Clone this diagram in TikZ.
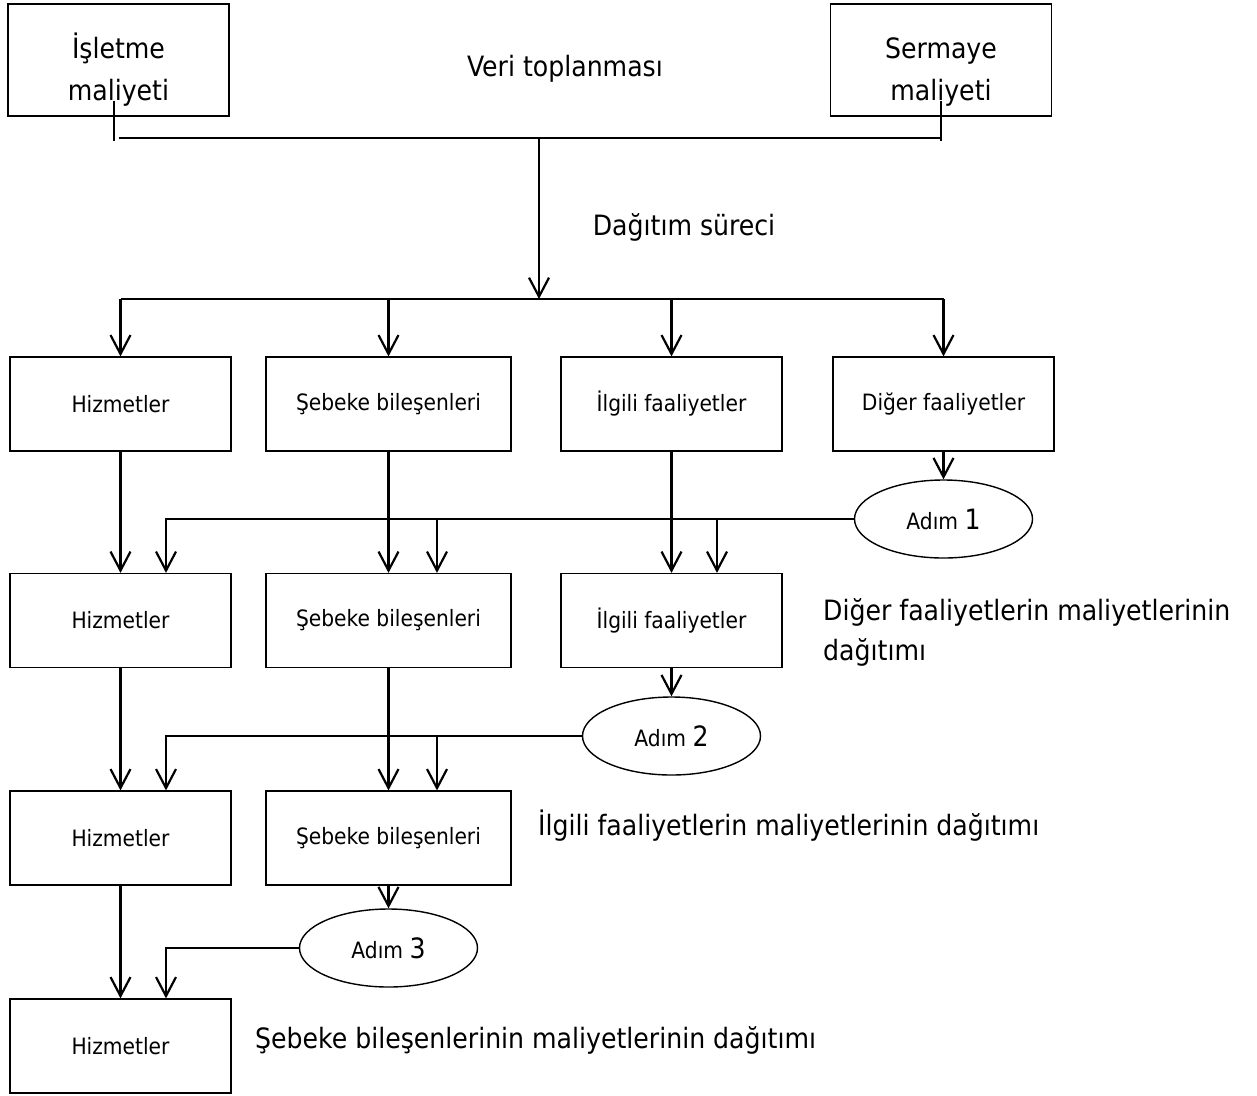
\documentclass[tikz,border=0pt]{standalone}
\usepackage{fontspec}
\setmainfont{DejaVu Sans Condensed}
\usetikzlibrary{arrows.meta,shapes.geometric,positioning}

\newcommand{\boxfont}{\fontsize{22.5}{27}\selectfont}
\newcommand{\bigfont}{\fontsize{28}{42}\selectfont}

\tikzset{
	stagebox/.style={draw, line width=1.2pt, rectangle, minimum width=221pt,
		minimum height=94pt, inner sep=0pt, font=\boxfont},
	widebox/.style={stagebox, minimum width=245pt},
	stepnode/.style={draw, line width=1.4pt, ellipse, minimum width=178pt,
		minimum height=78pt, inner sep=0pt, font=\boxfont},
	conn/.style={line width=2.2pt, -{Straight Barb[length=19pt,width=20pt]}},
	bus/.style={line width=2.2pt},
	thinline/.style={line width=1.2pt},
	notetext/.style={font=\bigfont, inner sep=0pt, align=left}
}

\begin{document}
\begin{tikzpicture}[x=1pt,y=-1pt]
	\useasboundingbox (0,0) rectangle (1257,1095);
	
	% veri toplanmasi
	\node[stagebox, minimum height=112pt, font=\bigfont, align=center] (isl) at (118.5,60) {\rule{0pt}{44pt}İşletme\\maliyeti};
	\node[stagebox, minimum height=112pt, font=\bigfont, align=center] (srm) at (941,60) {\rule{0pt}{44pt}Sermaye\\maliyeti};
	\node[notetext] (veri) at (565,69) {Veri toplanması};
	
	\coordinate (busL) at (119,138);
	\coordinate (busR) at (941,138);
	\coordinate (busM) at (539,138);
	\draw[thinline] ([xshift=-4.5pt,yshift=16pt]isl.south) -- ++(0,40);
	\draw[thinline] ([yshift=16pt]srm.south) -- ++(0,40);
	\draw[bus] (busL) -- (busR);
	
	% dagitim sureci
	\node[notetext] (dagitim) at (684,227) {Dağıtım süreci};
	\coordinate (split) at (539,299);
	\draw[conn] (busM) -- (split);
	
	% 1. sira
	\node[stagebox] (h1) at (120.5,404) {Hizmetler};
	\node[widebox] (s1) at (388.5,404) {Şebeke bileşenleri};
	\node[stagebox] (i1) at (671.5,404) {İlgili faaliyetler};
	\node[stagebox] (d1) at (943.5,404) {Diğer faaliyetler};
	\draw[bus] (split -| h1.north) -- (split -| d1.north);
	\foreach \n in {h1,s1,i1,d1}
		\draw[conn] (split -| \n.north) -- (\n.north);
	
	% adim 1
	\node[stepnode] (a1) at (943.5,519) {Adım {\bigfont 1}};
	\draw[conn] (d1.south) -- (a1.north);
	
	% 2. sira
	\node[stagebox] (h2) at (120.5,620.5) {Hizmetler};
	\node[widebox] (s2) at (388.5,620.5) {Şebeke bileşenleri};
	\node[stagebox] (i2) at (671.5,620.5) {İlgili faaliyetler};
	\node[notetext, anchor=west] (not1) at (823,632) {Diğer faaliyetlerin maliyetlerinin\\[-2pt]dağıtımı};
	\draw[conn] (h1.south) -- (h2.north);
	\draw[conn] (s1.south) -- (s2.north);
	\draw[conn] (i1.south) -- (i2.north);
	\draw[conn] (a1.west) -| ([xshift=45.5pt]h2.north);
	\draw[conn] ([xshift=48.5pt]s2.north |- a1.west) -- ([xshift=48.5pt]s2.north);
	\draw[conn] ([xshift=45.5pt]i2.north |- a1.west) -- ([xshift=45.5pt]i2.north);
	
	% adim 2
	\node[stepnode] (a2) at (671.5,736) {Adım {\bigfont 2}};
	\draw[conn] (i2.south) -- (a2.north);
	
	% 3. sira
	\node[stagebox] (h3) at (120.5,838) {Hizmetler};
	\node[widebox] (s3) at (388.5,838) {Şebeke bileşenleri};
	\node[notetext, anchor=west] (not2) at (538,826) {İlgili faaliyetlerin maliyetlerinin dağıtımı};
	\draw[conn] (h2.south) -- (h3.north);
	\draw[conn] (s2.south) -- (s3.north);
	\draw[conn] (a2.west) -| ([xshift=45.5pt]h3.north);
	\draw[conn] ([xshift=48.5pt]s3.north |- a2.west) -- ([xshift=48.5pt]s3.north);
	
	% adim 3
	\node[stepnode] (a3) at (388.5,948) {Adım {\bigfont 3}};
	\draw[conn] (s3.south) -- (a3.north);
	
	% 4. sira
	\node[stagebox] (h4) at (120.5,1046) {Hizmetler};
	\node[notetext, anchor=west] (not3) at (255,1040) {Şebeke bileşenlerinin maliyetlerinin dağıtımı};
	\draw[conn] (h3.south) -- (h4.north);
	\draw[conn] (a3.west) -| ([xshift=45.5pt]h4.north);
	
\end{tikzpicture}
\end{document}
